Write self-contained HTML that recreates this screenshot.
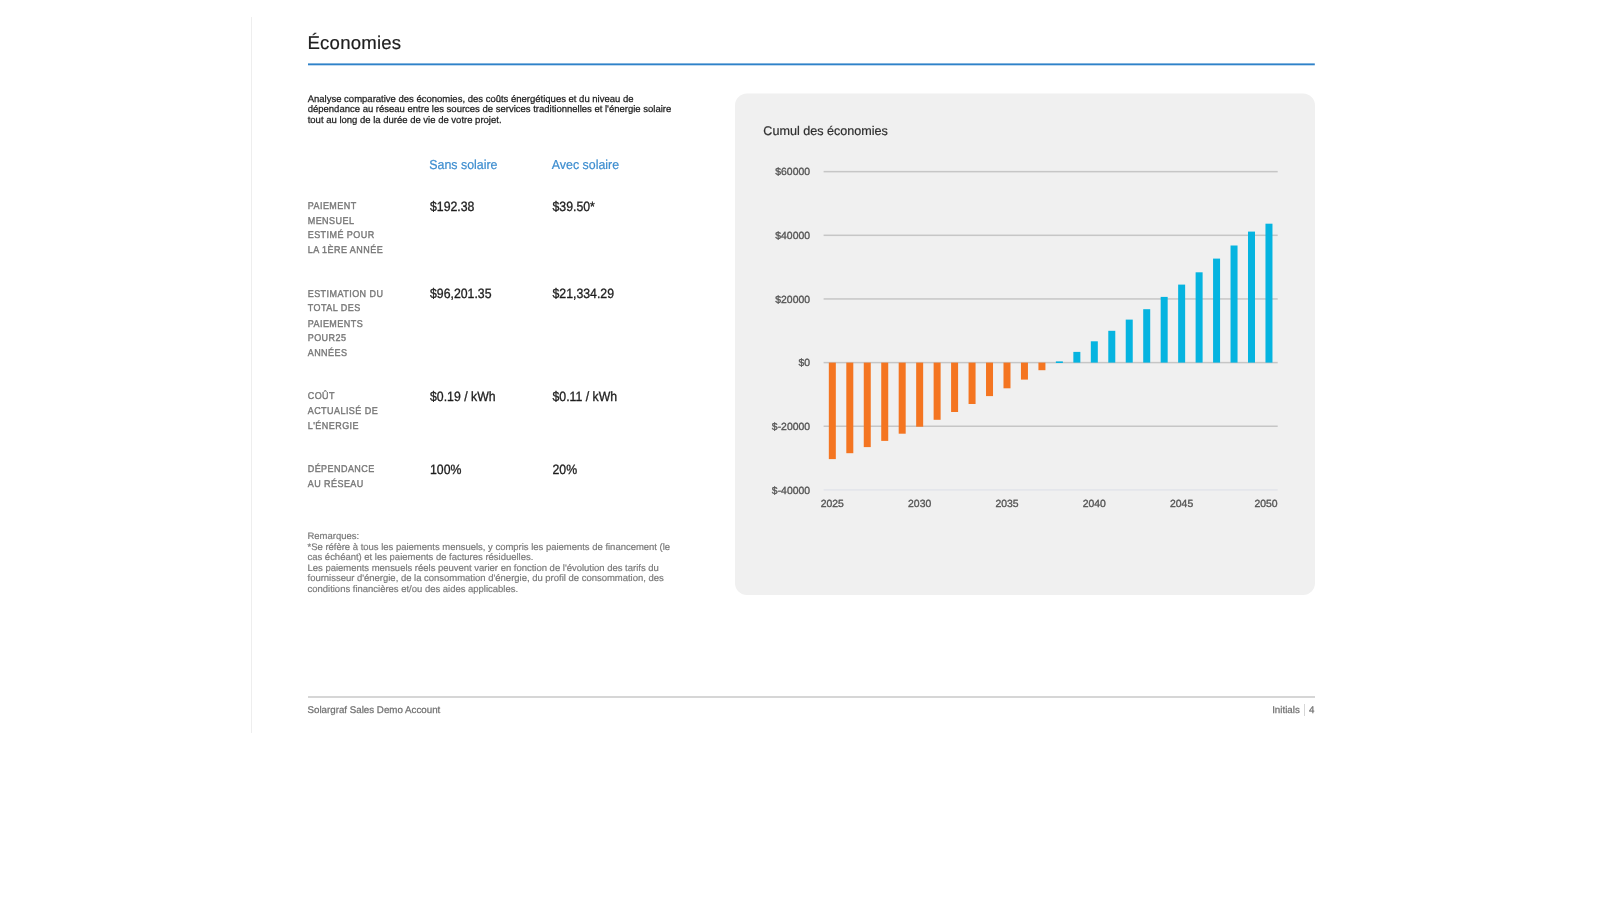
<!DOCTYPE html>
<html lang="fr"><head><meta charset="utf-8"><title>Économies</title>
<style>
html,body{margin:0;padding:0;background:#fff;}
body{width:1620px;height:911px;position:relative;overflow:hidden;font-family:"Liberation Sans",sans-serif;}
#w{position:absolute;left:0;top:0;width:1620px;height:911px;will-change:transform;}
.a{position:absolute;margin:0;}
svg{position:absolute;left:0;top:0;overflow:visible;}
svg text{font-family:"Liberation Sans",sans-serif;text-rendering:geometricPrecision;}
</style></head><body><div id="w">
<div class="a" style="left:251px;top:17px;width:1px;height:716px;background:#eeeeee"></div>
<div class="a" style="left:307.5px;top:696px;width:1007.5px;height:2px;background:#d6d6d6"></div>
<div class="a" style="left:1304px;top:704px;width:1px;height:12px;background:#d6d6d6"></div>
<svg width="1620" height="911" viewBox="0 0 1620 911">
<rect x="735" y="93.4" width="580" height="501.6" rx="12" ry="12" fill="#f0f0f0"/>
<rect x="308" y="63.4" width="1006.8" height="1.9" fill="#2f82c9"/>
<rect x="823.6" y="170.90" width="454.1" height="1.5" fill="#c6c6c6"/>
<rect x="823.6" y="234.55" width="454.1" height="1.5" fill="#c6c6c6"/>
<rect x="823.6" y="298.20" width="454.1" height="1.5" fill="#c6c6c6"/>
<rect x="823.6" y="361.85" width="454.1" height="1.5" fill="#c6c6c6"/>
<rect x="823.6" y="425.50" width="454.1" height="1.5" fill="#c6c6c6"/>
<rect x="823.6" y="489.15" width="454.1" height="1.5" fill="#e2e4ea"/>
<rect x="828.83" y="362.60" width="7" height="96.50" fill="#f47521"/>
<rect x="846.30" y="362.60" width="7" height="90.60" fill="#f47521"/>
<rect x="863.76" y="362.60" width="7" height="84.50" fill="#f47521"/>
<rect x="881.23" y="362.60" width="7" height="78.30" fill="#f47521"/>
<rect x="898.69" y="362.60" width="7" height="71.10" fill="#f47521"/>
<rect x="916.16" y="362.60" width="7" height="64.10" fill="#f47521"/>
<rect x="933.62" y="362.60" width="7" height="57.20" fill="#f47521"/>
<rect x="951.09" y="362.60" width="7" height="49.40" fill="#f47521"/>
<rect x="968.56" y="362.60" width="7" height="41.40" fill="#f47521"/>
<rect x="986.02" y="362.60" width="7" height="33.50" fill="#f47521"/>
<rect x="1003.49" y="362.60" width="7" height="25.70" fill="#f47521"/>
<rect x="1020.95" y="362.60" width="7" height="17.00" fill="#f47521"/>
<rect x="1038.42" y="362.60" width="7" height="7.60" fill="#f47521"/>
<rect x="1055.88" y="361.40" width="7" height="1.60" fill="#06b4e0"/>
<rect x="1073.35" y="351.90" width="7" height="10.70" fill="#06b4e0"/>
<rect x="1090.81" y="341.30" width="7" height="21.30" fill="#06b4e0"/>
<rect x="1108.28" y="330.80" width="7" height="31.80" fill="#06b4e0"/>
<rect x="1125.74" y="319.60" width="7" height="43.00" fill="#06b4e0"/>
<rect x="1143.21" y="309.20" width="7" height="53.40" fill="#06b4e0"/>
<rect x="1160.67" y="296.90" width="7" height="65.70" fill="#06b4e0"/>
<rect x="1178.14" y="284.60" width="7" height="78.00" fill="#06b4e0"/>
<rect x="1195.61" y="272.30" width="7" height="90.30" fill="#06b4e0"/>
<rect x="1213.07" y="258.60" width="7" height="104.00" fill="#06b4e0"/>
<rect x="1230.54" y="245.50" width="7" height="117.10" fill="#06b4e0"/>
<rect x="1248.00" y="231.60" width="7" height="131.00" fill="#06b4e0"/>
<rect x="1265.47" y="223.70" width="7" height="138.90" fill="#06b4e0"/>
<text x="307.5" y="49.4" font-size="18.6" letter-spacing="0.2" fill="#1e1e1e" stroke="#1e1e1e" stroke-width="0.2">Économies</text>
<text x="307.7" y="101.6" font-size="9.5" fill="#222" stroke="#222" stroke-width="0.25">Analyse comparative des économies, des coûts énergétiques et du niveau de</text>
<text x="307.7" y="112.0" font-size="9.5" fill="#222" stroke="#222" stroke-width="0.25">dépendance au réseau entre les sources de services traditionnelles et l'énergie solaire</text>
<text x="307.7" y="122.5" font-size="9.5" fill="#222" stroke="#222" stroke-width="0.25">tout au long de la durée de vie de votre projet.</text>
<text transform="translate(429.3,169.2) scale(1,1.05)" x="0" y="0" font-size="12.4" fill="#3d8dcf" stroke="#3d8dcf" stroke-width="0.2" text-rendering="geometricPrecision">Sans solaire</text>
<text transform="translate(551.8,169.2) scale(1,1.05)" x="0" y="0" font-size="12.4" fill="#3d8dcf" stroke="#3d8dcf" stroke-width="0.2" text-rendering="geometricPrecision">Avec solaire</text>
<text transform="translate(307.7,208.7) scale(1,1.1)" x="0" y="0" font-size="9.0" letter-spacing="0.45" fill="#777" stroke="#777" stroke-width="0.35" text-rendering="geometricPrecision">PAIEMENT</text>
<text transform="translate(307.7,223.7) scale(1,1.1)" x="0" y="0" font-size="9.0" letter-spacing="0.45" fill="#777" stroke="#777" stroke-width="0.35" text-rendering="geometricPrecision">MENSUEL</text>
<text transform="translate(307.7,237.9) scale(1,1.1)" x="0" y="0" font-size="9.0" letter-spacing="0.45" fill="#777" stroke="#777" stroke-width="0.35" text-rendering="geometricPrecision">ESTIMÉ POUR</text>
<text transform="translate(307.7,253.0) scale(1,1.1)" x="0" y="0" font-size="9.0" letter-spacing="0.45" fill="#777" stroke="#777" stroke-width="0.35" text-rendering="geometricPrecision">LA 1ÈRE ANNÉE</text>
<text transform="translate(430,210.7) scale(1,1.1)" x="0" y="0" font-size="12.3" fill="#1e1e1e" stroke="#1e1e1e" stroke-width="0.3" text-rendering="geometricPrecision">$192.38</text>
<text transform="translate(552.5,210.7) scale(1,1.1)" x="0" y="0" font-size="12.3" fill="#1e1e1e" stroke="#1e1e1e" stroke-width="0.3" text-rendering="geometricPrecision">$39.50*</text>
<text transform="translate(307.7,296.7) scale(1,1.1)" x="0" y="0" font-size="9.0" letter-spacing="0.45" fill="#777" stroke="#777" stroke-width="0.35" text-rendering="geometricPrecision">ESTIMATION DU</text>
<text transform="translate(307.7,311.4) scale(1,1.1)" x="0" y="0" font-size="9.0" letter-spacing="0.45" fill="#777" stroke="#777" stroke-width="0.35" text-rendering="geometricPrecision">TOTAL DES</text>
<text transform="translate(307.7,326.6) scale(1,1.1)" x="0" y="0" font-size="9.0" letter-spacing="0.45" fill="#777" stroke="#777" stroke-width="0.35" text-rendering="geometricPrecision">PAIEMENTS</text>
<text transform="translate(307.7,341.0) scale(1,1.1)" x="0" y="0" font-size="9.0" letter-spacing="0.45" fill="#777" stroke="#777" stroke-width="0.35" text-rendering="geometricPrecision">POUR25</text>
<text transform="translate(307.7,355.8) scale(1,1.1)" x="0" y="0" font-size="9.0" letter-spacing="0.45" fill="#777" stroke="#777" stroke-width="0.35" text-rendering="geometricPrecision">ANNÉES</text>
<text transform="translate(430,298.3) scale(1,1.1)" x="0" y="0" font-size="12.3" fill="#1e1e1e" stroke="#1e1e1e" stroke-width="0.3" text-rendering="geometricPrecision">$96,201.35</text>
<text transform="translate(552.5,298.3) scale(1,1.1)" x="0" y="0" font-size="12.3" fill="#1e1e1e" stroke="#1e1e1e" stroke-width="0.3" text-rendering="geometricPrecision">$21,334.29</text>
<text transform="translate(307.7,399.2) scale(1,1.1)" x="0" y="0" font-size="9.0" letter-spacing="0.45" fill="#777" stroke="#777" stroke-width="0.35" text-rendering="geometricPrecision">COÛT</text>
<text transform="translate(307.7,414.4) scale(1,1.1)" x="0" y="0" font-size="9.0" letter-spacing="0.45" fill="#777" stroke="#777" stroke-width="0.35" text-rendering="geometricPrecision">ACTUALISÉ DE</text>
<text transform="translate(307.7,429.4) scale(1,1.1)" x="0" y="0" font-size="9.0" letter-spacing="0.45" fill="#777" stroke="#777" stroke-width="0.35" text-rendering="geometricPrecision">L'ÉNERGIE</text>
<text transform="translate(430,400.8) scale(1,1.1)" x="0" y="0" font-size="12.3" fill="#1e1e1e" stroke="#1e1e1e" stroke-width="0.3" text-rendering="geometricPrecision">$0.19 / kWh</text>
<text transform="translate(552.5,400.8) scale(1,1.1)" x="0" y="0" font-size="12.3" fill="#1e1e1e" stroke="#1e1e1e" stroke-width="0.3" text-rendering="geometricPrecision">$0.11 / kWh</text>
<text transform="translate(307.7,471.9) scale(1,1.1)" x="0" y="0" font-size="9.0" letter-spacing="0.45" fill="#777" stroke="#777" stroke-width="0.35" text-rendering="geometricPrecision">DÉPENDANCE</text>
<text transform="translate(307.7,486.8) scale(1,1.1)" x="0" y="0" font-size="9.0" letter-spacing="0.45" fill="#777" stroke="#777" stroke-width="0.35" text-rendering="geometricPrecision">AU RÉSEAU</text>
<text transform="translate(430,473.7) scale(1,1.1)" x="0" y="0" font-size="12.3" fill="#1e1e1e" stroke="#1e1e1e" stroke-width="0.3" text-rendering="geometricPrecision">100%</text>
<text transform="translate(552.5,473.7) scale(1,1.1)" x="0" y="0" font-size="12.3" fill="#1e1e1e" stroke="#1e1e1e" stroke-width="0.3" text-rendering="geometricPrecision">20%</text>
<text x="307.5" y="539.1" font-size="9.48" fill="#7a7a7a" stroke="#7a7a7a" stroke-width="0.2">Remarques:</text>
<text x="307.5" y="549.66" font-size="9.48" fill="#7a7a7a" stroke="#7a7a7a" stroke-width="0.2">*Se réfère à tous les paiements mensuels, y compris les paiements de financement (le</text>
<text x="307.5" y="560.22" font-size="9.48" fill="#7a7a7a" stroke="#7a7a7a" stroke-width="0.2">cas échéant) et les paiements de factures résiduelles.</text>
<text x="307.5" y="570.78" font-size="9.48" fill="#7a7a7a" stroke="#7a7a7a" stroke-width="0.2">Les paiements mensuels réels peuvent varier en fonction de l'évolution des tarifs du</text>
<text x="307.5" y="581.34" font-size="9.48" fill="#7a7a7a" stroke="#7a7a7a" stroke-width="0.2">fournisseur d'énergie, de la consommation d'énergie, du profil de consommation, des</text>
<text x="307.5" y="591.9" font-size="9.48" fill="#7a7a7a" stroke="#7a7a7a" stroke-width="0.2">conditions financières et/ou des aides applicables.</text>
<text x="307.5" y="713.0" font-size="9.75" fill="#727272" stroke="#727272" stroke-width="0.25">Solargraf Sales Demo Account</text>
<text x="1299.8" y="713.0" font-size="9.75" text-anchor="end" fill="#727272" stroke="#727272" stroke-width="0.25">Initials</text>
<text x="1314.5" y="713.0" font-size="9.75" text-anchor="end" fill="#727272" stroke="#727272" stroke-width="0.25">4</text>
<text x="763.3" y="135.2" font-size="12.6" fill="#2e2e2e" stroke="#2e2e2e" stroke-width="0.2">Cumul des économies</text>
<text x="810" y="175.29" font-size="10.4" text-anchor="end" fill="#555" stroke="#555" stroke-width="0.35">$60000</text>
<text x="810" y="238.94" font-size="10.4" text-anchor="end" fill="#555" stroke="#555" stroke-width="0.35">$40000</text>
<text x="810" y="302.59" font-size="10.4" text-anchor="end" fill="#555" stroke="#555" stroke-width="0.35">$20000</text>
<text x="810" y="366.24" font-size="10.4" text-anchor="end" fill="#555" stroke="#555" stroke-width="0.35">$0</text>
<text x="810" y="429.89" font-size="10.4" text-anchor="end" fill="#555" stroke="#555" stroke-width="0.35">$-20000</text>
<text x="810" y="493.54" font-size="10.4" text-anchor="end" fill="#555" stroke="#555" stroke-width="0.35">$-40000</text>
<text x="832.33" y="507.2" font-size="10.4" text-anchor="middle" fill="#555" stroke="#555" stroke-width="0.35">2025</text>
<text x="919.66" y="507.2" font-size="10.4" text-anchor="middle" fill="#555" stroke="#555" stroke-width="0.35">2030</text>
<text x="1006.99" y="507.2" font-size="10.4" text-anchor="middle" fill="#555" stroke="#555" stroke-width="0.35">2035</text>
<text x="1094.31" y="507.2" font-size="10.4" text-anchor="middle" fill="#555" stroke="#555" stroke-width="0.35">2040</text>
<text x="1181.64" y="507.2" font-size="10.4" text-anchor="middle" fill="#555" stroke="#555" stroke-width="0.35">2045</text>
<text x="1277.6" y="507.2" font-size="10.4" text-anchor="end" fill="#555" stroke="#555" stroke-width="0.35">2050</text>
</svg>
</div></body></html>
